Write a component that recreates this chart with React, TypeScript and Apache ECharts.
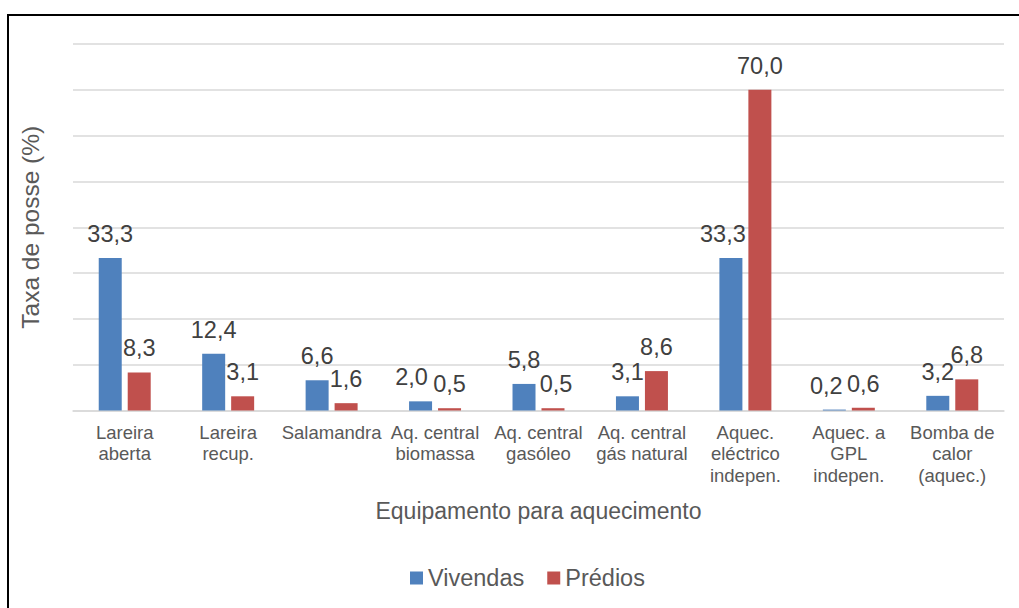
import React, { useEffect, useRef } from "react";
import * as echarts from "echarts";

const categories = [
  "Lareira\naberta",
  "Lareira\nrecup.",
  "Salamandra",
  "Aq. central\nbiomassa",
  "Aq. central\ngasóleo",
  "Aq. central\ngás natural",
  "Aquec.\neléctrico\nindepen.",
  "Aquec. a\nGPL\nindepen.",
  "Bomba de\ncalor\n(aquec.)",
];
const vivendas = [33.3, 12.4, 6.6, 2.0, 5.8, 3.1, 33.3, 0.2, 3.2];
const predios = [8.3, 3.1, 1.6, 0.5, 0.5, 8.6, 70.0, 0.6, 6.8];
const seriesNames = ["Vivendas", "Prédios"];
const yMin = 0;
const yMax = 80;
const yInterval = 10;

// horizontal nudges of a few data labels (as in the reference, to avoid overlap)
const vivendasLabelShift = [0, 0, 0, -9, 0, 0, -8, -8, 0];
const prediosLabelShift = [0, 0, 0, 0, 3, 0, 0, 0, 0];

const FONT = "'Liberation Sans', Arial, sans-serif";

export default function App() {
  const ref = useRef<HTMLDivElement>(null);
  useEffect(() => {
    document.body.style.margin = "0";
    if (!ref.current) return;
    const chart = echarts.init(ref.current, null, { renderer: "svg" });
    const fmt = (p: any) => Number(p.value).toFixed(1).replace(".", ",");
    const labelCfg = {
      show: true,
      position: "top",
      distance: 12,
      formatter: fmt,
      fontSize: 23.5,
      color: "#404040",
      fontFamily: FONT,
    };
    const withShift = (vals: number[], shifts: number[]) =>
      vals.map((v, i) =>
        shifts[i] ? { value: v, label: { offset: [shifts[i], 0] } } : v
      );
    chart.setOption({
      animation: false,
      backgroundColor: "#ffffff",
      textStyle: { fontFamily: FONT },
      graphic: [
        {
          type: "rect",
          shape: { x: 8, y: 15, width: 1100, height: 700 },
          style: { fill: "none", stroke: "#000000", lineWidth: 2 },
          z: 100,
        },
      ],
      grid: { left: 73, right: 15, top: 44, height: 366.5, containLabel: false },
      legend: {
        data: seriesNames,
        left: 405,
        top: 561,
        icon: "rect",
        itemWidth: 13,
        itemHeight: 13,
        itemGap: 23,
        textStyle: { fontSize: 23.5, color: "#595959", fontFamily: FONT },
      },
      xAxis: {
        type: "category",
        data: categories,
        name: "Equipamento para aquecimento",
        nameLocation: "middle",
        nameGap: 89,
        nameTextStyle: { fontSize: 23, color: "#595959", fontFamily: FONT },
        axisTick: { show: false },
        axisLine: { lineStyle: { color: "#d9d9d9", width: 1.5 } },
        axisLabel: {
          interval: 0,
          fontSize: 18.5,
          lineHeight: 21.5,
          color: "#595959",
          margin: 11,
          fontFamily: FONT,
        },
      },
      yAxis: {
        type: "value",
        min: yMin,
        max: yMax,
        interval: yInterval,
        name: "Taxa de posse (%)",
        nameLocation: "middle",
        nameGap: 30,
        nameTextStyle: { fontSize: 24.5, color: "#595959", fontFamily: FONT },
        axisLabel: { show: false },
        axisLine: { show: false },
        axisTick: { show: false },
        splitLine: { lineStyle: { color: "#d9d9d9", width: 1.5 } },
      },
      series: [
        {
          name: seriesNames[0],
          type: "bar",
          data: withShift(vivendas, vivendasLabelShift),
          barWidth: 23,
          barGap: "26%",
          itemStyle: { color: "#4f81bd" },
          label: labelCfg,
        },
        {
          name: seriesNames[1],
          type: "bar",
          data: withShift(predios, prediosLabelShift),
          barWidth: 23,
          barGap: "26%",
          itemStyle: { color: "#c0504d" },
          label: labelCfg,
        },
      ],
    });
    return () => chart.dispose();
  }, []);
  return <div ref={ref} style={{ width: 1019, height: 608 }} />;
}
